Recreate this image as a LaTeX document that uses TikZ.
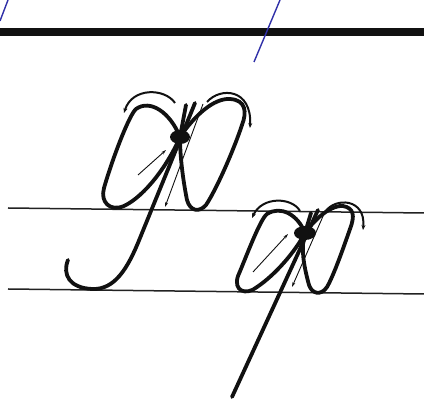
\documentclass[tikz,border=0pt]{standalone}
\usepackage{xcolor}
\usepackage{tikz}
\usetikzlibrary{arrows.meta, calc}
\definecolor{inkBlack}{HTML}{111111}
\definecolor{guideBlue}{HTML}{3030A8}
\definecolor{ruleGrey}{HTML}{222222}

\begin{document}
\begin{tikzpicture}[
  x=1pt, y=-1pt,
  topBar/.style={line width=8pt, inkBlack},
  slantLine/.style={line width=1.4pt, guideBlue},
  ruleLine/.style={line width=1.5pt, ruleGrey},
  letterStroke/.style={line width=3.8pt, inkBlack, line cap=round, line join=round},
  hintArc/.style={line width=2pt, inkBlack, -{Stealth[length=5pt, width=4pt]}},
  hintArrow/.style={line width=0.9pt, inkBlack, -{Stealth[length=5pt, width=3pt]}},
  knot/.style={fill=inkBlack}
]
  \useasboundingbox (0,0) rectangle (424,403);

  % ruling
  \draw[topBar] (0,32) -- (424,32);
  \draw[slantLine] (8,0) -- (0,21);
  \draw[slantLine] (280,0) -- (254,62);
  \draw[ruleLine] (8,208) -- (424,213);
  \draw[ruleLine] (8,289) -- (424,294);

  \coordinate (dotA) at (180,137);
  \coordinate (dotB) at (305,233);

  % first letter
  \draw[letterStroke] (dotA) .. controls (170,112) and (150,99) .. (136,109)
    .. controls (129,115) and (112,160) .. (104,188)
    .. controls (100,202) and (110,212) .. (124,206)
    .. controls (145,196) and (168,165) .. (dotA);
  \draw[letterStroke] (dotA) .. controls (195,115) and (214,98) .. (230,99)
    .. controls (246,100) and (247,112) .. (242,125)
    .. controls (233,152) and (216,190) .. (206,205)
    .. controls (199,213) and (190,211) .. (187,200)
    .. controls (184,185) and (180,160) .. (dotA);
  \draw[letterStroke] (195,103) -- (140,238)
    .. controls (128,268) and (115,290) .. (92,289)
    .. controls (70,288) and (62,275) .. (68,260);
  \draw[letterStroke] (186,105) -- (dotA);
  \fill[knot] (dotA) ellipse[x radius=10, y radius=7];
  \draw[hintArc] (175,103) .. controls (165,88) and (132,87) .. (124,113);
  \draw[hintArc] (207,102) .. controls (220,87) and (252,88) .. (250,128);
  \draw[hintArrow] (203,104) -- (165,207);
  \draw[hintArrow] (138,175) -- (166,150);

  % second letter
  \draw[letterStroke] (dotB) .. controls (298,215) and (281,205) .. (267,214)
    .. controls (260,219) and (245,260) .. (238,276)
    .. controls (233,291) and (246,296) .. (257,287)
    .. controls (275,275) and (295,252) .. (dotB);
  \draw[letterStroke] (dotB) .. controls (318,215) and (333,205) .. (343,206)
    .. controls (354,208) and (355,216) .. (350,229)
    .. controls (344,246) and (334,275) .. (327,287)
    .. controls (321,296) and (312,294) .. (309,285)
    .. controls (305,270) and (300,250) .. (dotB);
  \draw[letterStroke] (318,210) -- (232,397);
  \draw[letterStroke] (311,213) -- (dotB);
  \fill[knot] (dotB) ellipse[x radius=11, y radius=7];
  \draw[hintArc] (300,211) .. controls (292,197) and (262,196) .. (252,218);
  \draw[hintArc] (325,212) .. controls (335,197) and (366,198) .. (363,230);
  \draw[hintArrow] (324,214) -- (292,287);
  \draw[hintArrow] (253,272) -- (288,234);
\end{tikzpicture}
\end{document}
